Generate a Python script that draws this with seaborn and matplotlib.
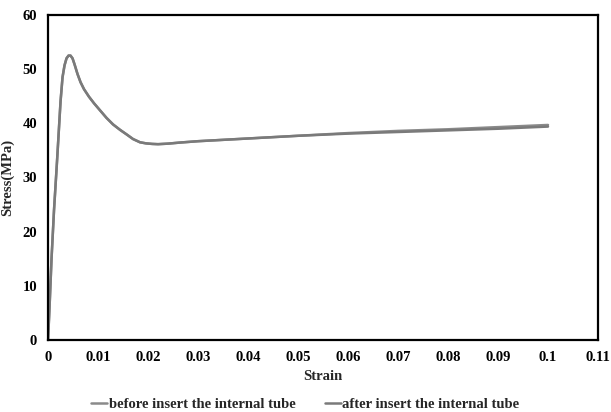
import numpy as np
import pandas as pd
import matplotlib
matplotlib.use("Agg")
import matplotlib.pyplot as plt
import seaborn as sns

# Stress-strain curves of the tube specimen
strain = [0.0, 0.0003, 0.0007, 0.0012, 0.0018, 0.0025, 0.0029, 0.0033, 0.0037,
          0.0041, 0.0045, 0.0049, 0.0053, 0.0059, 0.0065, 0.0072, 0.0082, 0.0092,
          0.0104, 0.0117, 0.013, 0.0144, 0.0158, 0.017, 0.0184, 0.0196, 0.0208,
          0.022, 0.024, 0.0264, 0.03, 0.04, 0.05, 0.06, 0.07, 0.08, 0.09, 0.1]
stress_before = [0.0, 6.0, 15.0, 24.0, 33.0, 44.0, 48.5, 50.7, 52.0,
                 52.5, 52.5, 52.0, 50.9, 49.1, 47.6, 46.3, 44.9, 43.7,
                 42.4, 41.0, 39.8, 38.8, 37.9, 37.1, 36.5, 36.3, 36.2,
                 36.15, 36.25, 36.45, 36.7, 37.2, 37.7, 38.2, 38.6, 38.9, 39.3, 39.7]
stress_after = [0.0, 6.0, 15.0, 24.0, 33.0, 44.0, 48.5, 50.7, 52.0,
                52.5, 52.5, 52.0, 50.9, 49.1, 47.6, 46.3, 44.9, 43.7,
                42.4, 41.0, 39.8, 38.8, 37.9, 37.1, 36.5, 36.3, 36.2,
                36.15, 36.25, 36.45, 36.7, 37.2, 37.7, 38.1, 38.4, 38.7, 39.0, 39.4]

x_ticks = [0, 0.01, 0.02, 0.03, 0.04, 0.05, 0.06, 0.07, 0.08, 0.09, 0.1, 0.11]
x_tick_labels = ["0", "0.01", "0.02", "0.03", "0.04", "0.05", "0.06", "0.07",
                 "0.08", "0.09", "0.1", "0.11"]
y_ticks = [0, 10, 20, 30, 40, 50, 60]

labels = ["before insert the internal tube", "after insert the internal tube"]

df = pd.concat([
    pd.DataFrame({"Strain": strain, "Stress": stress_before, "Case": labels[0]}),
    pd.DataFrame({"Strain": strain, "Stress": stress_after, "Case": labels[1]}),
])

sns.set_theme(style="white")
plt.rcParams["font.family"] = ["Liberation Serif", "DejaVu Serif"]
plt.rcParams["font.weight"] = "bold"

fig = plt.figure(figsize=(6.11, 4.12), dpi=100)
ax = fig.add_axes([0.0786, 0.1748, 0.9001, 0.7888])

sns.lineplot(data=df, x="Strain", y="Stress", hue="Case", hue_order=labels,
             palette=["#8a8a8a", "#7a7a7a"], linewidth=1.8, ax=ax,
             sort=False, estimator=None)

ax.set_xlim(0, 0.11)
ax.set_ylim(0, 60)
ax.set_xticks(x_ticks)
ax.set_xticklabels(x_tick_labels)
ax.set_yticks(y_ticks)
ax.tick_params(axis="both", length=0, labelsize=10.5, pad=8, colors="black")
for lbl in ax.get_xticklabels() + ax.get_yticklabels():
    lbl.set_fontweight("bold")

ax.set_xlabel("Strain", fontsize=10.5, fontweight="bold", labelpad=4)
ax.set_ylabel("Stress(MPa)", fontsize=10.5, fontweight="bold", labelpad=6)

for side in ["left", "bottom", "top", "right"]:
    ax.spines[side].set_visible(True)
    ax.spines[side].set_color("black")
    ax.spines[side].set_linewidth(1.6)

# Legend centred on the figure, below the axis title
handles, _ = ax.get_legend_handles_labels()
ax.legend(handles=handles, labels=labels, loc="lower center",
          bbox_to_anchor=(0.468, -0.26), ncol=2, frameon=False,
          handlelength=1.1, handletextpad=0.1, columnspacing=2.0,
          prop={"size": 10.5, "weight": "bold"})

fig.savefig("out.png", dpi=100, facecolor="white")
